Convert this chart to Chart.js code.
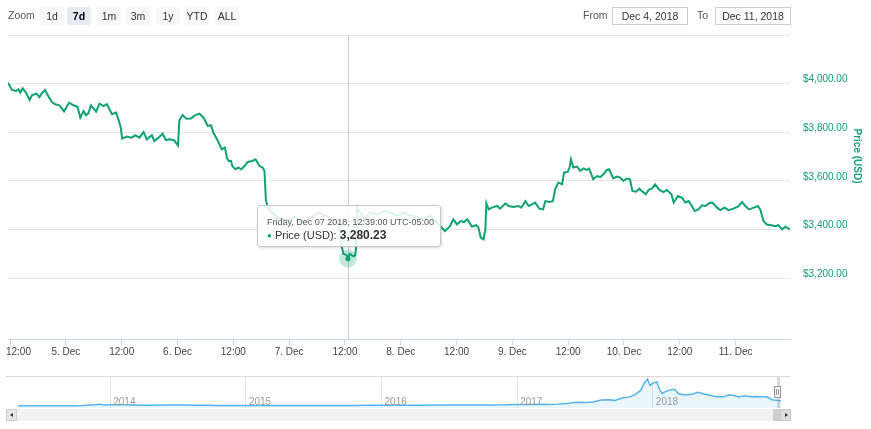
<!DOCTYPE html>
<html>
<head>
<meta charset="utf-8">
<script src="https://cdn.jsdelivr.net/npm/chart.js@4.4.0/dist/chart.umd.min.js"></script>
<style>
body { margin: 0; background: #fff; font-family: "Lucida Grande", "Lucida Sans Unicode", Arial, "Liberation Sans", sans-serif; }
#wrap { position: relative; width: 871px; height: 429px; overflow: hidden; }
#main { position: absolute; left: 0; top: 0; width: 871px; height: 365px; }
#nav { position: absolute; left: 0; top: 376px; width: 871px; height: 33px; }
.lbl { position: absolute; top: 9px; font-size: 10.5px; color: #555; }
.btn { position: absolute; top: 7px; width: 24px; height: 18px; line-height: 18px; text-align: center; font-size: 10.5px; color: #333; background: #f7f7f7; border-radius: 2px; }
.btn.on { background: #e6ebf5; font-weight: bold; color: #000; }
.date { position: absolute; top: 7px; width: 76px; height: 18px; box-sizing: border-box; border: 1px solid #ccc; line-height: 16px; text-align: center; font-size: 10.5px; color: #333; }
#tip { position: absolute; width: 184px; height: 42px; box-sizing: border-box; padding: 10px 0 0 9px; background: rgba(255,255,255,0.85); border: 1px solid #c9c9c9; border-radius: 3px; box-shadow: 1px 1px 3px rgba(0,0,0,0.15); white-space: nowrap; }
#tip .head { font-size: 9px; line-height: 12px; color: #555; }
#tip .body { font-size: 11px; line-height: 14px; color: #333; }
#tip .body b { font-size: 12px; }
#tip .dot { font-size: 8px; vertical-align: 1px; }
.outline { position: absolute; left: 6px; top: 376px; width: 785px; height: 1px; background: #dcdcdc; }
.mask { position: absolute; left: 777px; top: 377px; width: 3px; height: 31px; background: rgba(140,150,170,0.35); }
.handle { position: absolute; left: 774px; top: 386px; width: 7px; height: 12px; box-sizing: border-box; background: #f2f2f2; border: 1px solid #999; }
.handle i { position: absolute; left: 1px; top: 2px; width: 1px; height: 6px; background: #999; }
.handle i + i { left: 3px; }
.track { position: absolute; left: 6px; top: 409px; width: 785px; height: 12px; background: #f2f2f2; }
.sbtn { position: absolute; top: 409px; width: 11px; height: 12px; box-sizing: border-box; background: #e6e6e6; border: 1px solid #ccc; }
.thumb { position: absolute; left: 773px; top: 409px; width: 7px; height: 12px; background: #cfcfcf; }
.arr { position: absolute; top: 3px; width: 0; height: 0; border-top: 2.5px solid transparent; border-bottom: 2.5px solid transparent; }
</style>
</head>
<body>
<div id="wrap">
  <div id="main"><canvas id="priceChart" width="871" height="365"></canvas></div>
  <div id="nav"><canvas id="navChart" width="871" height="33"></canvas></div>

  <div class="lbl" style="left:8px">Zoom</div>
  <div class="btn" style="left:40px">1d</div>
  <div class="btn on" style="left:67px">7d</div>
  <div class="btn" style="left:97px">1m</div>
  <div class="btn" style="left:126px">3m</div>
  <div class="btn" style="left:156px">1y</div>
  <div class="btn" style="left:185px">YTD</div>
  <div class="btn" style="left:215px">ALL</div>
  <div class="lbl" style="left:583px">From</div>
  <div class="date" style="left:612px">Dec 4, 2018</div>
  <div class="lbl" style="left:697px">To</div>
  <div class="date" style="left:715px">Dec 11, 2018</div>

  <div class="outline"></div>
  <div class="mask"></div>
  <div class="handle"><i></i><i></i></div>
  <div class="track"></div>
  <div class="sbtn" style="left:6px"><div class="arr" style="left:3px;border-right:3px solid #333"></div></div>
  <div class="thumb"></div>
  <div class="sbtn" style="left:780px;background:#dcdcdc"><div class="arr" style="left:4px;border-left:3px solid #333"></div></div>

  <div id="tip"><div class="head"></div><div class="body"><span class="dot">&#9679;</span> <span class="name"></span>: <b class="val"></b></div></div>
</div>

<script>
// hours since Dec 4 2018 00:00 (UTC-05:00)
var priceHours = [11.55,12.4,13.3,13.8,14.2,14.7,15.4,16.2,16.7,17.7,18.3,18.8,19.5,20.2,21.0,21.7,22.6,23.6,24.7,25.6,
  26.5,27.1,27.8,28.3,28.8,29.4,30.5,31.2,32.1,32.8,33.9,34.8,35.5,35.8,36.1,37.1,38.2,38.9,39.8,40.7,
  41.4,42.5,43.0,43.9,44.8,45.5,46.4,47.3,48.1,48.4,49.1,49.9,50.9,51.8,52.7,53.6,54.5,55.2,55.7,56.7,
  57.5,58.2,58.6,59.0,59.5,59.8,60.4,61.1,61.7,62.4,63.1,64.0,64.8,65.6,66.3,66.7,67.0,67.3,68.3,69.2,
  70.4,71.9,73.3,74.7,76.5,78.3,80.1,81.9,82.8,83.3,83.7,84.4,84.65,85.1,85.8,86.2,86.4,86.6,87.5,88.3,
  89.4,90.9,92.6,93.7,95.2,96.6,97.6,98.7,100.9,102.3,103.8,104.8,105.5,106.5,107.3,108.1,108.9,109.6,110.3,111.3,
  112.2,112.7,113.2,113.8,114.2,114.4,114.9,115.6,116.7,117.4,118.5,119.2,120.2,121.3,121.9,122.8,123.5,124.2,124.9,125.8,
  126.6,127.1,128.0,128.7,129.2,129.9,130.7,131.1,131.9,132.3,132.6,133.1,133.9,134.6,135.3,136.0,136.5,137.4,138.2,138.9,
  139.6,140.3,140.8,141.7,142.5,143.2,143.9,144.6,145.3,145.8,146.6,147.3,148.0,148.7,149.3,150.0,150.7,151.6,152.5,153.2,
  154.2,154.7,155.6,156.5,157.2,157.9,158.5,159.2,160.0,160.8,161.6,162.3,163.0,164.0,164.7,165.6,166.5,167.5,168.5,169.4,
  170.1,170.9,171.9,172.8,173.3,174.0,174.7,175.7,176.5,177.2,178.0,178.7,179.7];
var priceUsd = [4004,3974,3970,3977,3963,3981,3963,3933,3952,3960,3944,3960,3974,3949,3924,3915,3911,3886,3922,3911,
  3905,3860,3887,3870,3877,3911,3884,3918,3908,3916,3874,3881,3840,3819,3774,3782,3778,3788,3778,3801,
  3771,3788,3764,3778,3794,3768,3771,3767,3746,3850,3871,3856,3857,3870,3877,3860,3826,3829,3799,3764,
  3730,3737,3696,3682,3682,3661,3648,3655,3648,3661,3678,3682,3689,3661,3655,3641,3524,3497,3470,3455,
  3442,3438,3452,3430,3448,3470,3455,3438,3420,3330,3300,3295,3280.23,3300,3290,3294,3326,3491,3465,3442,
  3471,3462,3476,3471,3456,3470,3460,3456,3442,3456,3430,3408,3394,3412,3442,3421,3435,3431,3442,3412,
  3418,3408,3367,3360,3401,3508,3483,3490,3497,3486,3508,3497,3493,3497,3490,3517,3497,3504,3511,3486,
  3483,3517,3513,3517,3566,3593,3586,3634,3637,3655,3689,3655,3659,3641,3651,3645,3651,3607,3620,3616,
  3627,3645,3648,3610,3618,3614,3600,3610,3607,3559,3556,3568,3556,3545,3563,3568,3586,3563,3554,3563,
  3545,3511,3538,3531,3511,3517,3500,3476,3483,3500,3497,3508,3511,3490,3480,3490,3480,3486,3494,3513,
  3497,3483,3490,3497,3483,3435,3421,3418,3414,3418,3401,3412,3401];

var xTickHours = [12,24,36,48,60,72,84,96,108,120,132,144,156,168];
var xTickLabels = ['12:00','5. Dec','12:00','6. Dec','12:00','7. Dec','12:00','8. Dec','12:00','9. Dec','12:00','10. Dec','12:00','11. Dec'];
var yTickValues = [3200,3400,3600,3800,4000,4200];

var navYears = [2013.32,2013.40,2013.48,2013.56,2013.64,2013.72,2013.80,2013.86,2013.92,2013.96,2014.02,2014.10,2014.16,2014.24,2014.32,
  2014.40,2014.48,2014.56,2014.64,2014.72,2014.80,2014.92,2015.04,2015.15,2015.30,2015.45,2015.55,2015.65,2015.80,2015.90,
  2016.00,2016.15,2016.30,2016.45,2016.55,2016.65,2016.80,2016.92,2017.00,2017.08,2017.16,2017.22,2017.30,2017.38,2017.44,
  2017.50,2017.56,2017.62,2017.68,2017.72,2017.78,2017.83,2017.87,2017.91,2017.94,2017.96,2017.98,2018.00,2018.03,2018.05,
  2018.07,2018.10,2018.13,2018.16,2018.19,2018.24,2018.29,2018.33,2018.37,2018.42,2018.47,2018.52,2018.56,2018.60,2018.63,
  2018.68,2018.72,2018.76,2018.80,2018.84,2018.88,2018.91,2018.945];
var navUsd = [135,120,100,95,120,130,200,600,1100,700,850,800,600,480,450,
  580,620,600,500,400,350,360,220,240,230,240,285,230,330,380,
  430,420,440,700,650,580,700,750,990,920,1190,1050,1250,1800,2600,
  2450,2700,4200,4300,3800,5700,6400,8000,11000,16500,19100,14500,16200,17000,11500,
  8800,10500,11200,11800,8600,7800,8200,9600,8600,7500,6500,6400,7900,7300,6400,
  7100,6500,6600,6500,6400,4400,4000,3400];
var navYearTicks = [2014,2015,2016,2017,2018];

var hoverHour = 84.65;
var hoverTitle = 'Friday, Dec 07 2018, 12:39:00 UTC-05:00';
var seriesName = 'Price (USD)';

var green = '#10a174';
var fontFamily = '"Lucida Grande", "Lucida Sans Unicode", Arial, "Liberation Sans", sans-serif';
Chart.defaults.font.family = fontFamily;

function money(v) {
  return v.toLocaleString('en-US', {minimumFractionDigits: 2, maximumFractionDigits: 2});
}

var hoverIndex = priceHours.indexOf(hoverHour);

var hoverPlugin = {
  id: 'hoverPlugin',
  beforeDatasetsDraw: function (chart) {
    var el = chart.getDatasetMeta(0).data[hoverIndex];
    var a = chart.chartArea, ctx = chart.ctx;
    var x = Math.round(el.x) + 0.5;
    ctx.save();
    ctx.strokeStyle = '#cccccc';
    ctx.lineWidth = 1;
    ctx.beginPath();
    ctx.moveTo(x, a.top);
    ctx.lineTo(x, a.bottom);
    ctx.stroke();
    ctx.restore();
  },
  afterDatasetsDraw: function (chart) {
    var el = chart.getDatasetMeta(0).data[hoverIndex];
    var ctx = chart.ctx;
    ctx.save();
    ctx.fillStyle = 'rgba(16,161,116,0.25)';
    ctx.beginPath();
    ctx.arc(el.x, el.y, 9, 0, Math.PI * 2);
    ctx.fill();
    ctx.fillStyle = green;
    ctx.beginPath();
    ctx.arc(el.x, el.y, 2.5, 0, Math.PI * 2);
    ctx.fill();
    ctx.restore();
  },
  afterDraw: function (chart) {
    var a = chart.chartArea, ctx = chart.ctx;
    // axis title
    ctx.save();
    ctx.translate(a.right + 67, a.top + 121);
    ctx.rotate(Math.PI / 2);
    ctx.textAlign = 'center';
    ctx.textBaseline = 'middle';
    ctx.font = 'bold 10px ' + fontFamily;
    ctx.fillStyle = green;
    ctx.fillText(seriesName, 0, 0);
    ctx.restore();
    // tooltip
    var el = chart.getDatasetMeta(0).data[hoverIndex];
    var tip = document.getElementById('tip');
    tip.querySelector('.head').textContent = hoverTitle;
    tip.querySelector('.name').textContent = seriesName;
    tip.querySelector('.val').textContent = money(priceUsd[hoverIndex]);
    tip.querySelector('.dot').style.color = green;
    tip.style.left = Math.round(el.x - 91) + 'px';
    tip.style.top = Math.round(el.y - 54) + 'px';
  }
};

// year labels sit inside the navigator, right of each year line
var yearLabelPlugin = {
  id: 'yearLabels',
  afterDraw: function (chart) {
    var sx = chart.scales.x, a = chart.chartArea, ctx = chart.ctx;
    ctx.save();
    ctx.font = '10px ' + fontFamily;
    ctx.fillStyle = '#999';
    ctx.textAlign = 'left';
    ctx.textBaseline = 'middle';
    navYearTicks.forEach(function (yr) {
      ctx.fillText(String(yr), sx.getPixelForValue(yr) + 3, a.bottom - 6);
    });
    ctx.restore();
  }
};

new Chart(document.getElementById('priceChart'), {
  type: 'line',
  data: {
    datasets: [{
      label: seriesName,
      data: priceHours.map(function (h, i) { return {x: h, y: priceUsd[i]}; }),
      borderColor: green,
      borderWidth: 2,
      pointRadius: 0,
      tension: 0,
      fill: false
    }]
  },
  options: {
    responsive: false,
    animation: false,
    events: [],
    layout: {padding: {left: 8, top: 35, right: 0, bottom: 0}},
    plugins: {legend: {display: false}, tooltip: {enabled: false}},
    scales: {
      x: {
        type: 'linear',
        min: 11.55,
        max: 179.7,
        afterBuildTicks: function (s) { s.ticks = xTickHours.map(function (h) { return {value: h}; }); },
        afterFit: function (s) { s.height = 26; s.paddingLeft = 0; s.paddingRight = 0; },
        grid: {drawOnChartArea: false, drawTicks: true, tickLength: 6, color: '#ccd6eb'},
        border: {color: '#ccd6eb'},
        ticks: {
          autoSkip: false,
          maxRotation: 0,
          padding: 1,
          color: '#444',
          font: {size: 10},
          callback: function (v, i) {
            var lbl = xTickLabels[xTickHours.indexOf(v)];
            return i === 0 ? '      ' + lbl : lbl;
          }
        }
      },
      y: {
        position: 'right',
        min: 2950,
        max: 4200,
        afterBuildTicks: function (s) { s.ticks = yTickValues.map(function (v) { return {value: v}; }); },
        afterFit: function (s) { s.width = 81; s.paddingTop = 0; s.paddingBottom = 0; },
        grid: {color: '#e6e6e6', drawTicks: false},
        border: {display: false},
        ticks: {
          padding: 13,
          labelOffset: -4,
          color: green,
          font: {size: 10},
          callback: function (v) { return v === 4200 ? '' : '$' + money(v); }
        }
      }
    }
  },
  plugins: [hoverPlugin]
});

new Chart(document.getElementById('navChart'), {
  type: 'line',
  data: {
    datasets: [{
      data: navYears.map(function (t, i) { return {x: t, y: navUsd[i]}; }),
      borderColor: '#55b3ee',
      borderWidth: 1.5,
      backgroundColor: 'rgba(85,179,238,0.12)',
      fill: 'start',
      pointRadius: 0,
      tension: 0
    }]
  },
  options: {
    responsive: false,
    animation: false,
    events: [],
    layout: {padding: {left: 18, right: 90, top: 1, bottom: 1}},
    plugins: {legend: {display: false}, tooltip: {enabled: false}},
    scales: {
      x: {
        type: 'linear',
        min: 2013.32,
        max: 2018.945,
        afterBuildTicks: function (s) { s.ticks = navYearTicks.map(function (v) { return {value: v}; }); },
        afterFit: function (s) { s.height = 0; s.paddingLeft = 0; s.paddingRight = 0; },
        grid: {drawOnChartArea: true, drawTicks: false, color: '#e6e6e6'},
        border: {display: false},
        ticks: {display: false}
      },
      y: {display: false, min: -1500, max: 20500}
    }
  },
  plugins: [yearLabelPlugin]
});
</script>
</body>
</html>
